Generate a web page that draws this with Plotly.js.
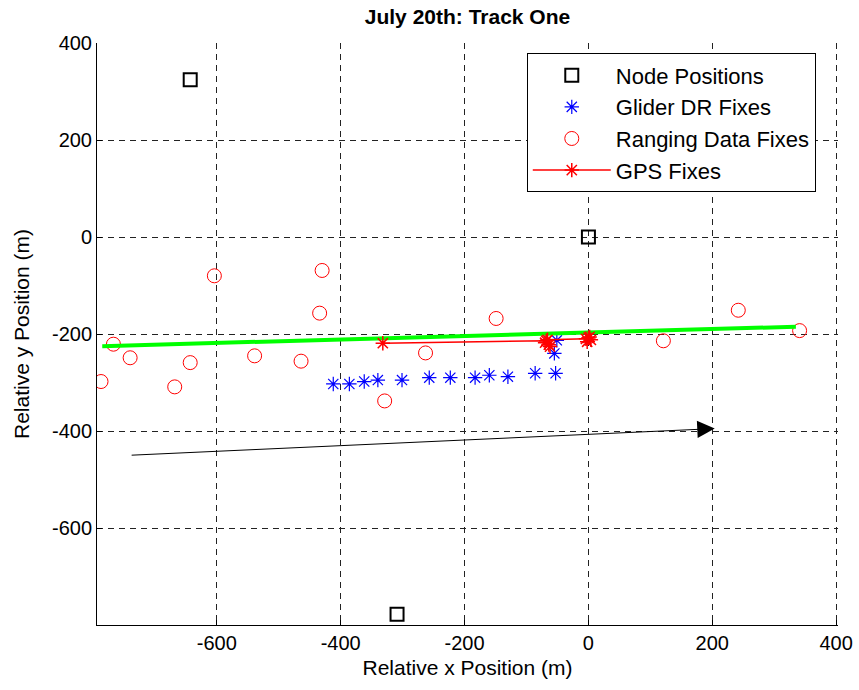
<!DOCTYPE html>
<html>
<head>
<meta charset="utf-8">
<script src="https://cdn.plot.ly/plotly-3.0.1.min.js"></script>
<style>html,body{margin:0;padding:0;background:#fff;}#chart{width:859px;height:690px;}</style>
</head>
<body>
<div id="chart"></div>
<script>
// Node positions
const nodeX = [-643, 0, -309];
const nodeY = [324, 0, -778];

// Glider dead-reckoning fixes
const gliderX = [-412, -386, -362, -340, -301, -257, -223, -183, -160, -130, -86, -53, -55, -51];
const gliderY = [-303, -303, -298, -295, -295, -290, -290, -290, -285, -288, -281, -281, -240, -213];

// Ranging data fixes
const rangeX = [-604, -430, -434, -767, -740, -787, -668, -643, -539, -464, -149, -263, -329, 121, 242, 341];
const rangeY = [-80, -69, -157, -221, -249, -298, -309, -259, -245, -256, -168, -239, -338, -214, -151, -193];

// GPS fixes
const gpsX = [-332, -68, -64, -70, -62, -66, -4, 2, -2, 4, 0];
const gpsY = [-219, -214, -222, -218, -226, -212, -210, -206, -216, -212, -208];

// Fitted track line
const trackX = [-785, 335];
const trackY = [-225, -185];

// Direction arrow (tail, head)
const arrowX = [-740, 204];
const arrowY = [-450, -395];

const xTicks = [-600, -400, -200, 0, 200, 400];
const yTicks = [-600, -400, -200, 0, 200, 400];

const FONT = 'Liberation Sans, Arial, Helvetica, sans-serif';

const traces = [
  {x: nodeX, y: nodeY, mode: 'markers', type: 'scatter', name: 'Node Positions',
   marker: {symbol: 'square-open', size: 13, color: '#000', line: {width: 2, color: '#000'}}},
  {x: gliderX, y: gliderY, mode: 'markers', type: 'scatter', name: 'Glider DR Fixes',
   marker: {symbol: 'asterisk-open', size: 12, color: '#0000ff', line: {width: 1.2, color: '#0000ff'}}},
  {x: rangeX, y: rangeY, mode: 'markers', type: 'scatter', name: 'Ranging Data Fixes',
   marker: {symbol: 'circle-open', size: 14, color: '#ff0000', line: {width: 1, color: '#ff0000'}}},
  {x: trackX, y: trackY, mode: 'lines', type: 'scatter', showlegend: false, hoverinfo: 'skip',
   line: {color: '#00ff00', width: 4}},
  {x: gpsX, y: gpsY, mode: 'lines+markers', type: 'scatter', name: 'GPS Fixes',
   line: {color: '#ff0000', width: 1.5},
   marker: {symbol: 'asterisk-open', size: 12, color: '#ff0000', line: {width: 1.5, color: '#ff0000'}}}
];

const axisCommon = {
  showgrid: true, gridcolor: '#222', gridwidth: 1, griddash: '6px,5px',
  zeroline: false, showline: true, linecolor: '#000', linewidth: 1,
  ticks: 'inside', ticklen: 5, tickcolor: '#000',
  tickfont: {family: FONT, size: 20, color: '#000'}, mirror: false
};

const layout = {
  width: 859, height: 690,
  paper_bgcolor: '#fff', plot_bgcolor: '#fff',
  margin: {l: 97, r: 21, t: 43, b: 65},
  title: {text: '<b>July 20th: Track One</b>', font: {family: FONT, size: 21, color: '#000'},
          x: 0.5, xref: 'paper', y: 0.976, yanchor: 'middle'},
  xaxis: Object.assign({}, axisCommon, {
    range: [-793.5, 403], tickvals: xTicks, ticktext: xTicks.map(String),
    title: {text: 'Relative x Position (m)', font: {family: FONT, size: 21, color: '#000'}, standoff: 7}
  }),
  yaxis: Object.assign({}, axisCommon, {
    range: [-800, 400], tickvals: yTicks, ticktext: yTicks.map(String),
    title: {text: 'Relative y Position (m)', font: {family: FONT, size: 21, color: '#000'}, standoff: 16}
  }),
  legend: {
    x: 0.58, y: 0.982, xanchor: 'left', yanchor: 'top',
    bgcolor: '#fff', bordercolor: '#000', borderwidth: 1,
    font: {family: FONT, size: 22, color: '#000'},
    itemwidth: 78, tracegroupgap: 0
  },
  showlegend: true,
  annotations: [{
    x: arrowX[1], y: arrowY[1], ax: arrowX[0], ay: arrowY[0],
    xref: 'x', yref: 'y', axref: 'x', ayref: 'y',
    text: '', showarrow: true, arrowhead: 2, arrowsize: 3.5, arrowwidth: 1, arrowcolor: '#000'
  }]
};

Plotly.newPlot('chart', traces, layout, {displayModeBar: false, staticPlot: true});
</script>
</body>
</html>
